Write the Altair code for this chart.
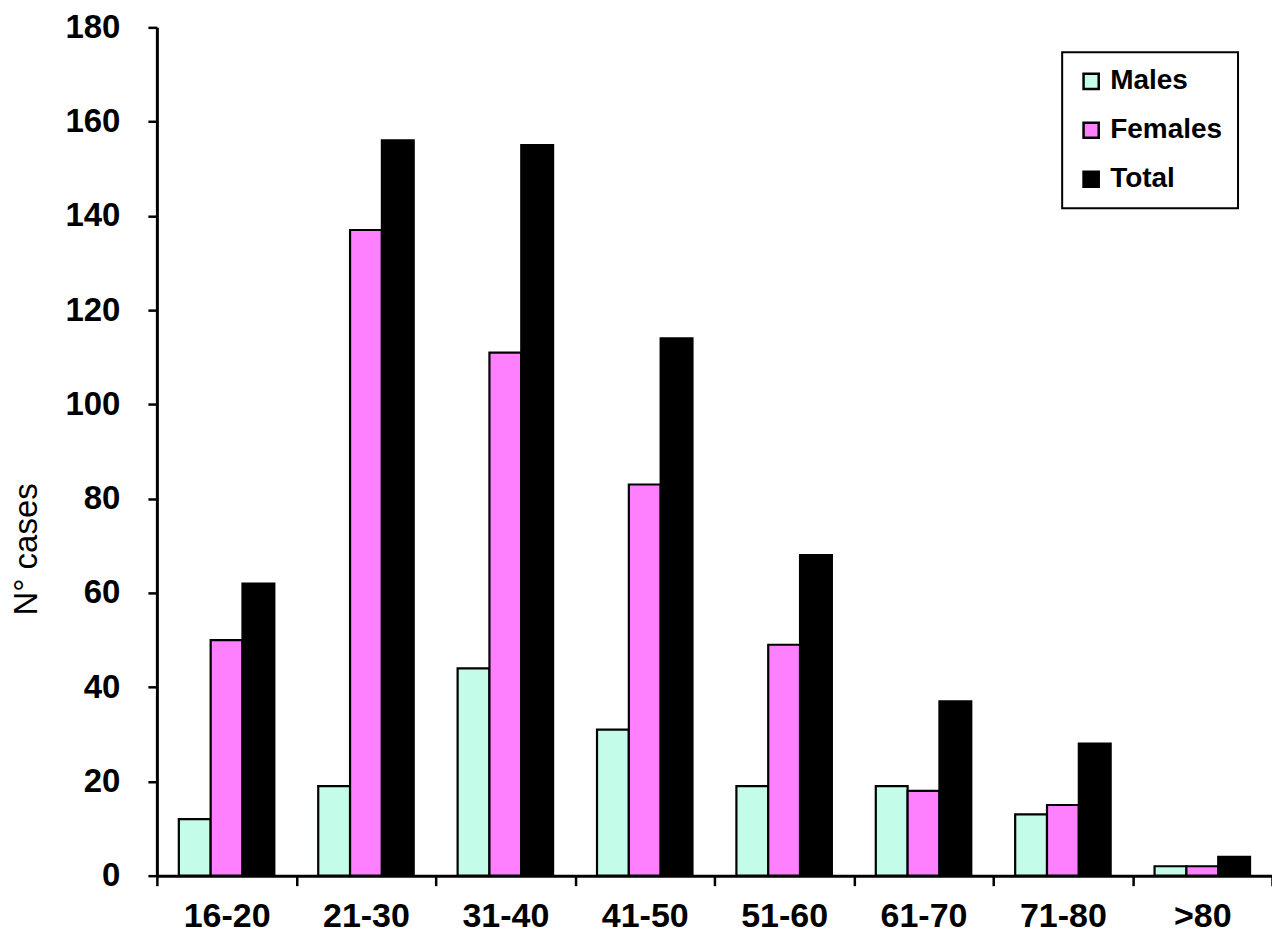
import altair as alt
import pandas as pd

groups = ["16-20", "21-30", "31-40", "41-50", "51-60", "61-70", "71-80", ">80"]
males = [12, 19, 44, 31, 19, 19, 13, 2]
females = [50, 137, 111, 83, 49, 18, 15, 2]
total = [62, 156, 155, 114, 68, 37, 28, 4]
series = ["Males", "Females", "Total"]
colors = ["#c4fcea", "#ff80ff", "#000000"]
y_ticks = [0, 20, 40, 60, 80, 100, 120, 140, 160, 180]

rows = []
for i, g in enumerate(groups):
    for s, vals in zip(series, [males, females, total]):
        rows.append({"group": g, "series": s, "value": vals[i]})
df = pd.DataFrame(rows)

FONT = "Liberation Sans"

chart = alt.Chart(df).mark_bar(stroke="black", strokeWidth=2.2).encode(
    x=alt.X(
        "group:N", sort=groups,
        scale=alt.Scale(paddingInner=0, paddingOuter=0),
        axis=alt.Axis(title=None, labelAngle=0, tickBand="extent",
                      labelFont=FONT, labelFontWeight="bold", labelFontSize=34,
                      labelColor="black", labelPadding=14, tickSize=10,
                      tickWidth=2.5, tickColor="black", domainColor="black",
                      domainWidth=3),
    ),
    xOffset=alt.XOffset("series:N", sort=series,
                        scale=alt.Scale(paddingOuter=0.69, paddingInner=0)),
    y=alt.Y(
        "value:Q",
        scale=alt.Scale(domain=[0, 180], nice=False),
        axis=alt.Axis(values=y_ticks, title="N° cases", grid=False,
                      labelFont=FONT, labelFontWeight="bold", labelFontSize=33,
                      labelColor="black", labelPadding=28, tickSize=9,
                      tickWidth=2.5, tickColor="black", domainColor="black",
                      domainWidth=3, titleFont=FONT, titleFontWeight="normal",
                      titleFontSize=33, titleColor="black",
                      titleX=-130, titleY=522, titleBaseline="middle",
                      titleAlign="center"),
    ),
    color=alt.Color(
        "series:N", sort=series,
        scale=alt.Scale(domain=series, range=colors),
        legend=alt.Legend(title=None, orient="none", legendX=906, legendY=25,
                          labelFont=FONT, labelFontWeight="bold", labelFontSize=28,
                          labelColor="black", symbolType="square", symbolSize=230,
                          symbolStrokeColor="black", symbolStrokeWidth=2.5,
                          symbolOpacity=1, labelOffset=5,
                          rowPadding=21, padding=15, strokeColor="black",
                          fillColor="white"),
    ),
).properties(
    width=1116, height=849,
    autosize=alt.AutoSizeParams(type="none"),
    padding={"left": 149, "top": 19, "right": 0, "bottom": 59},
).configure_view(stroke=None).configure_legend(strokeWidth=2)

chart.save("out.html", embed_options={"renderer": "svg", "actions": False})
